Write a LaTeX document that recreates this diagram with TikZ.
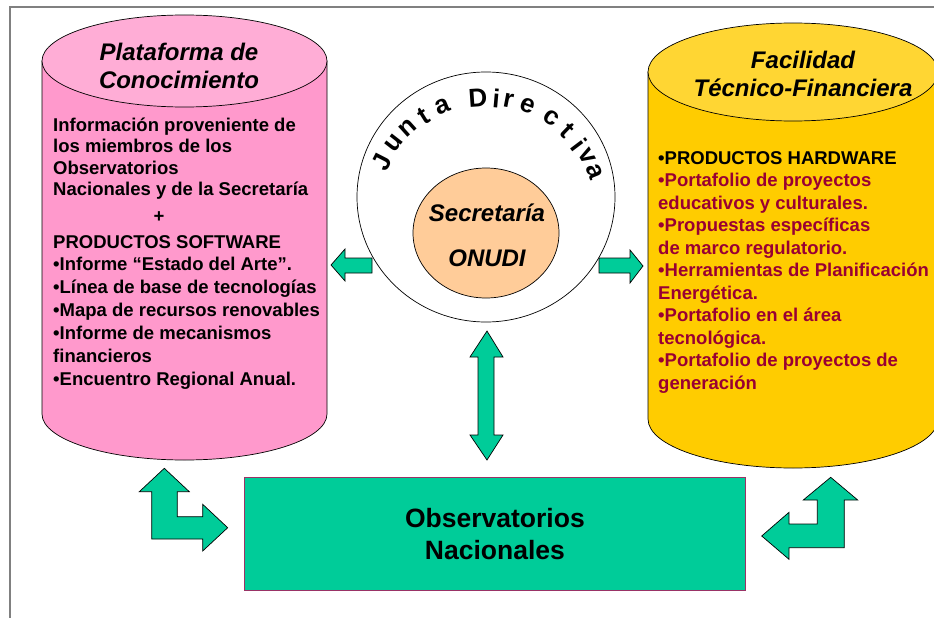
\documentclass[tikz,border=0pt]{standalone}
\usepackage{fontspec}
\setmainfont{Liberation Sans}
\definecolor{pinkbody}{HTML}{FF99CC}
\definecolor{pinktop}{HTML}{FFADD6}
\definecolor{yelbody}{HTML}{FFCC00}
\definecolor{yeltop}{HTML}{FFD633}
\definecolor{teal}{HTML}{00CC99}
\definecolor{peach}{HTML}{FFCC99}
\definecolor{boxline}{HTML}{993366}
\definecolor{wine}{HTML}{990033}
\definecolor{frame}{HTML}{808080}
\newcommand{\txtblock}[2]{\parbox[t]{300pt}{\raggedright\fontsize{18.5}{#1}\selectfont\bfseries #2}}
\tikzset{
  blockarrow/.style={fill=teal, draw=black, line width=0.7pt, line join=miter},
  cyl/.style={draw=black, line width=0.7pt},
  bodytext/.style={anchor=base west, inner sep=0pt},
  titletext/.style={align=center, inner sep=0pt, font=\fontsize{24}{28}\selectfont\bfseries\itshape},
  arcletter/.style={inner sep=0pt, font=\fontsize{26}{27}\selectfont\bfseries},
  secfont/.style={inner sep=0pt, font=\fontsize{24}{26}\selectfont\bfseries\itshape},
}
\begin{document}
\begin{tikzpicture}[x=1pt,y=1pt]
\useasboundingbox (0,0) rectangle (934,-618);
% frame
\draw[frame, line width=1.5pt] (10,-618) -- (10,-7) -- (934,-7);
% pink cylinder
\draw[cyl, fill=pinkbody] (42,-61) -- (42,-414) arc[start angle=180, end angle=360, x radius=142.5, y radius=46] -- (327,-61) -- cycle;
\draw[cyl, fill=pinktop] (184.5,-61) ellipse[x radius=142.5, y radius=46];
% yellow cylinder
\draw[cyl, fill=yelbody] (648,-72) -- (648,-419) arc[start angle=180, end angle=360, x radius=145, y radius=49] -- (938,-72) -- cycle;
\draw[cyl, fill=yeltop] (793,-72) ellipse[x radius=145, y radius=49];
% circles
\draw[line width=0.7pt, fill=white] (486,-197) ellipse[x radius=129, y radius=125];
\draw[line width=0.7pt, fill=peach] (486,-233) ellipse[x radius=73, y radius=65];
\foreach \ch/\ang [count=\k] in {J/153,u/142,n/132,t/122,a/112,D/94,i/85,r/79,e/69,c/56,t/46,i/37,v/30,a/22}
  \node[arcletter, rotate=\ang-90] (jd\k) at ([shift={(\ang:117)}]486,-215) {\ch};
\node[secfont] (sec) at (487,-213) {Secretaría};
\node[secfont] (onudi) at (487,-258) {ONUDI};
% titles
\node[titletext] (ptitle) at (179,-66) {Plataforma de\\Conocimiento};
\node[titletext] (ftitle) at (803,-74) {Facilidad\\Técnico-Financiera};
% pink text
\node[bodytext] (p1) at (53,-131) {\txtblock{21.5}{Información proveniente de\\los miembros de los\\Observatorios\\Nacionales y de la Secretaría}};
\node[inner sep=0pt, font=\fontsize{18.5}{20}\selectfont\bfseries] (plus) at (159,-217) {+};
\node[bodytext] (p2) at (53,-248) {\txtblock{22.9}{PRODUCTOS SOFTWARE\\•Informe “Estado del Arte”.\\•Línea de base de tecnologías\\•Mapa de recursos renovables\\•Informe de mecanismos\\financieros\\•Encuentro Regional Anual.}};
% yellow text
\node[bodytext] (y1) at (658,-164) {\txtblock{22.5}{•PRODUCTOS HARDWARE\\\color{wine}•Portafolio de proyectos\\educativos y culturales.\\•Propuestas específicas\\de marco regulatorio.\\•Herramientas de Planificación\\Energética.\\•Portafolio en el área\\tecnológica.\\•Portafolio de proyectos de\\generación}};
% green box
\node[draw=boxline, line width=0.8pt, fill=teal, minimum width=501pt, minimum height=113pt, anchor=north west, inner sep=0pt, align=center, font=\fontsize{26.5}{32}\selectfont\bfseries] (obs) at (244,-477) {Observatorios\\Nacionales};
% arrows
\draw[blockarrow] (331,-265) -- (345,-249) -- (345,-258) -- (372,-258) -- (372,-273) -- (345,-273) -- (345,-281) -- cycle;
\draw[blockarrow] (599,-258) -- (630,-258) -- (630,-250) -- (643,-266) -- (630,-283) -- (630,-273) -- (599,-273) -- cycle;
\draw[blockarrow] (487,-331) -- (503,-357) -- (494,-357) -- (494,-435) -- (503,-435) -- (487,-460) -- (470,-435) -- (478,-435) -- (478,-357) -- (470,-357) -- cycle;
\draw[blockarrow] (164.3,-468.3) -- (189.3,-491.7) -- (177.3,-491.7) -- (177.3,-516.7) -- (202.7,-516.7) -- (202.7,-504.3) -- (227.7,-527.7) -- (202.7,-551) -- (202.7,-539) -- (151.7,-539) -- (151.7,-491.7) -- (139.3,-491.7) -- cycle;
\draw[blockarrow] (830.7,-477.3) -- (857.7,-500) -- (844.3,-500) -- (844.3,-547.7) -- (789,-547.7) -- (789,-559.3) -- (761.7,-536) -- (789,-512.3) -- (789,-524) -- (817.3,-524) -- (817.3,-500) -- (803.3,-500) -- cycle;
\end{tikzpicture}
\end{document}
